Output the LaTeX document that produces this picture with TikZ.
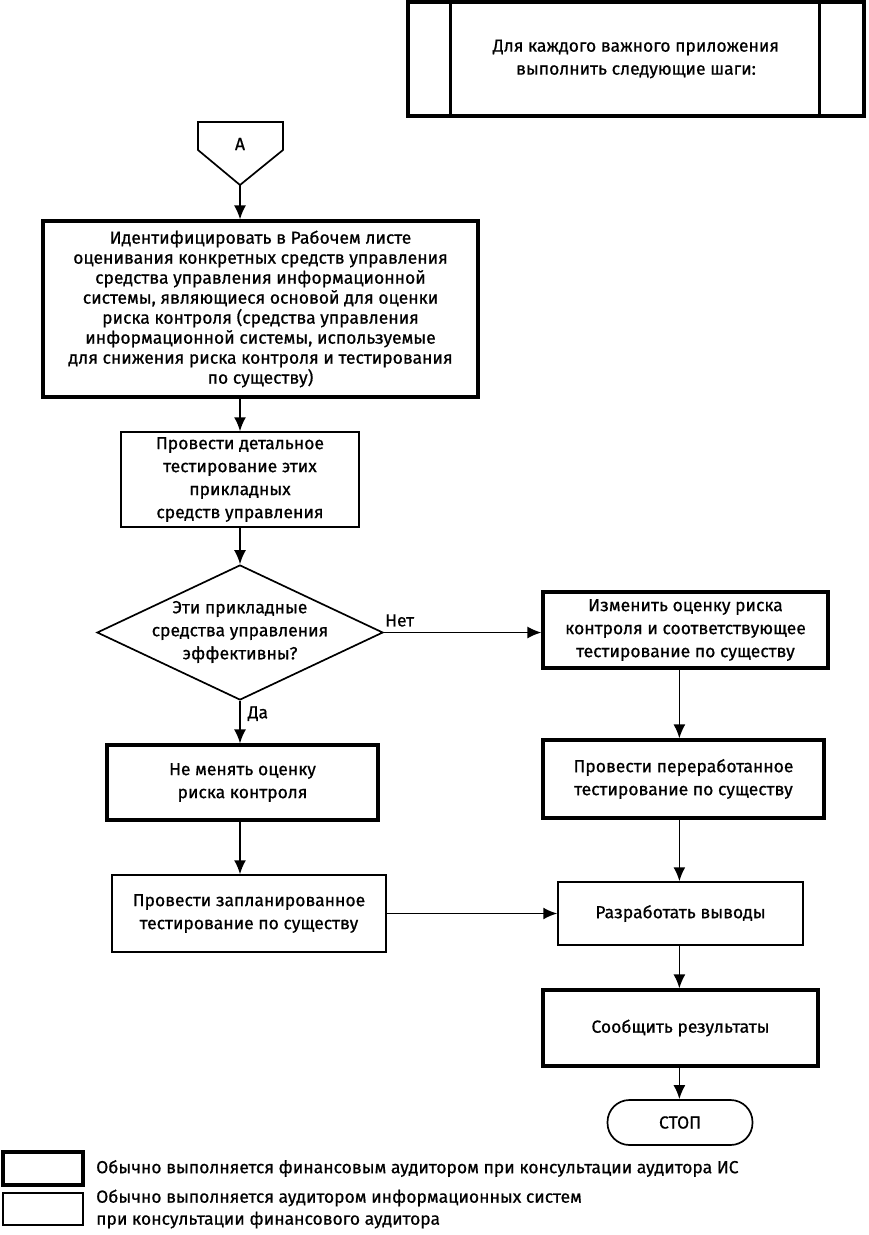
\documentclass[tikz,border=0pt]{standalone}
\usepackage{fontspec}
\setmainfont{Fira Sans}[FakeBold=0.7]
\usetikzlibrary{arrows.meta,shapes.geometric,calc}
\begin{document}
\begin{tikzpicture}[x=1pt,y=-1pt,
  every node/.style={font=\fontsize{17.5}{23}\selectfont, align=center, inner sep=0pt},
  thickbox/.style={draw, line width=3.2pt, rectangle},
  thinbox/.style={draw, line width=1.5pt, rectangle},
  arr/.style={line width=1.7pt, -{Latex[length=14pt,width=12pt]}},
  lbl/.style={font=\fontsize{17.5}{23}\selectfont}
]
\useasboundingbox (0,0) rectangle (868,1235);
% top box
\node[thickbox, minimum width=456pt, minimum height=114pt] (tb) at (636,59) {Для каждого важного приложения\\выполнить следующие шаги:};
\draw[line width=3.2pt] ($(tb.north west)+(44pt,0)$) -- ($(tb.south west)+(44pt,0)$);
\draw[line width=3.2pt] ($(tb.north east)+(-46pt,0)$) -- ($(tb.south east)+(-46pt,0)$);
% connector A
\node (A) at (240,144) {A};
\draw[line width=1.7pt] (198,122) -- (283,122) -- (283,150) -- (240,185) -- (198,150) -- cycle;
\coordinate (Ap) at (240,185);
% big box
\node[thickbox, minimum width=435pt, minimum height=176pt, font=\fontsize{17.5}{20}\selectfont] (b1) at (260.5,309) {Идентифицировать в Рабочем листе\\оценивания конкретных средств управления\\средства управления информационной\\системы, являющиеся основой для оценки\\риска контроля (средства управления\\информационной системы, используемые\\для снижения риска контроля и тестирования\\по существу)};
\draw[arr] (Ap) -- (Ap |- b1.north);
% box2
\node[thinbox, minimum width=238pt, minimum height=95pt] (b2) at (240,479.5) {Провести детальное\\тестирование этих\\прикладных\\средств управления};
\draw[arr] (b1.south -| b2.north) -- (b2.north);
% diamond
\node[diamond, draw, line width=1.7pt, minimum width=286pt, minimum height=135pt, aspect=2.15] (d) at (240,632.5) {};
\node (dt) at (240,632) {Эти прикладные\\средства управления\\эффективны?};
\draw[arr] (b2.south) -- (d.north);
% right boxes
\node[thickbox, minimum width=285pt, minimum height=76pt] (r1) at (685.5,630) {Изменить оценку риска\\контроля и соответствующее\\тестирование по существу};
\draw[arr] (d.east) -- (d.east -| r1.west) node[pos=0.1, above=5pt, lbl] {Нет};
\node[thickbox, minimum width=281pt, minimum height=78pt] (r2) at (683.5,779) {Провести переработанное\\тестирование по существу};
\draw[arr] ($(r1.south west)+(138pt,0)$) coordinate (r1s) -- (r1s |- r2.north);
% left boxes
\node[thickbox, minimum width=271pt, minimum height=75pt] (l3) at (242.5,782.5) {Не менять оценку\\риска контроля};
\draw[arr] (d.south) -- (d.south |- l3.north) node[pos=0.3, right=7pt, lbl] {Да};
\node[thinbox, minimum width=274pt, minimum height=77pt] (l4) at (249,913.5) {Провести запланированное\\тестирование по существу};
\draw[arr] (l3.south -| d.south) -- (d.south |- l4.north);
% conclusions
\node[thinbox, minimum width=245pt, minimum height=63pt] (c) at (680.5,913.5) {Разработать выводы};
\draw[arr] (r1s |- r2.south) -- (r1s |- c.north);
\draw[arr] (l4.east) -- (l4.east -| c.west);
\node[thickbox, minimum width=275pt, minimum height=76pt] (s) at (680.5,1028) {Сообщить результаты};
\draw[arr] (r1s |- c.south) -- (r1s |- s.north);
\node[draw, line width=1.7pt, rounded corners=22pt, minimum width=145pt, minimum height=45pt] (stop) at (680,1122.5) {СТОП};
\draw[arr] (r1s |- s.south) -- (r1s |- stop.north);
% legend
\node[thickbox, minimum width=80pt, minimum height=33pt] (lg1) at (43,1168.5) {};
\node[anchor=west] (lt1) at (96,1168.5) {Обычно выполняется финансовым аудитором при консультации аудитора ИС};
\node[thinbox, minimum width=80pt, minimum height=32pt] (lg2) at (43,1209) {};
\node[anchor=west, align=left, font=\fontsize{17.5}{22}\selectfont] (lt2) at (96,1209) {Обычно выполняется аудитором информационных систем\\при консультации финансового аудитора};
\end{tikzpicture}
\end{document}
